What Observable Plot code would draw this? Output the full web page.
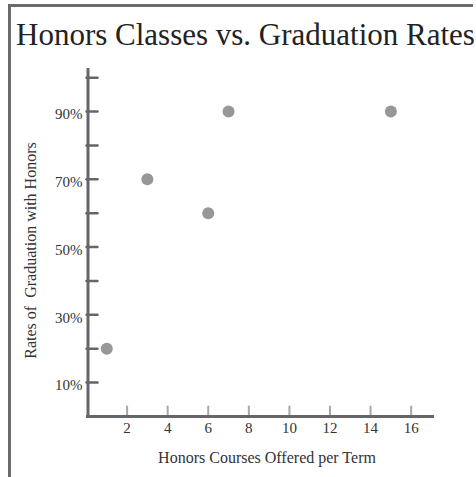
<!DOCTYPE html>
<html>
<head>
<meta charset="utf-8">
<script src="https://cdn.jsdelivr.net/npm/d3@7"></script>
<script src="https://cdn.jsdelivr.net/npm/@observablehq/plot@0.6"></script>
<style>
  html, body { margin: 0; padding: 0; background: #fff; }
  #wrap { position: relative; width: 476px; height: 477px; overflow: hidden; background: #fff; }
  #frame { position: absolute; left: 8px; top: 4px; width: 462px; height: 600px;
           border-left: 3px solid #6b6b6b; border-top: 3px solid #6b6b6b; }
  #title { position: absolute; left: 16px; top: 19px; font-family: "Liberation Serif", serif;
           font-size: 31px; line-height: 31px; color: #222; white-space: nowrap; }
  #chart { position: absolute; left: 0; top: 0; }
</style>
</head>
<body>
<div id="wrap">
  <div id="frame"></div>
  <div id="title">Honors Classes vs. Graduation Rates</div>
  <div id="chart"></div>
</div>
<script>
const titleText = "Honors Classes vs. Graduation Rates";
const xLabel = "Honors Courses Offered per Term";
const yLabel = "Rates of  Graduation with Honors";

const courses = [1, 3, 6, 7, 15];
const rates = [0.20, 0.70, 0.60, 0.90, 0.90];

const xTicks = [2, 4, 6, 8, 10, 12, 14, 16];
const yTicks = [0.1, 0.2, 0.3, 0.4, 0.5, 0.6, 0.7, 0.8, 0.9, 1.0];
const yTickLabels = [0.1, 0.3, 0.5, 0.7, 0.9];

const points = courses.map((c, i) => ({courses: c, rate: rates[i]}));
const lineShape = {draw(ctx, l) { ctx.moveTo(0, 0); ctx.lineTo(0, -l); }};
const pct = d3.format(".0%");

const chart = Plot.plot({
  width: 476,
  height: 477,
  marginLeft: 86,
  marginRight: 42,
  marginTop: 68,
  marginBottom: 61,
  style: {fontFamily: "Liberation Serif, serif", fontSize: "15px", background: "transparent", overflow: "visible", color: "#333"},
  x: {domain: [0, 17.15], axis: null},
  y: {domain: [0, 1.027], axis: null},
  marks: [
    Plot.vector(xTicks, {x: d => d, y: 0, length: 10, rotate: 0, anchor: "start", shape: lineShape, stroke: "#a8a8a8", strokeWidth: 2}),
    Plot.vector(yTicks, {x: 0, y: d => d, length: 11, rotate: 90, anchor: "start", shape: lineShape, stroke: "#666", strokeWidth: 2.5}),
    Plot.ruleX([0], {stroke: "#666", strokeWidth: 3, dx: 1.5}),
    Plot.ruleY([0], {stroke: "#666", strokeWidth: 3}),
    Plot.text(xTicks, {x: d => d, frameAnchor: "bottom", lineAnchor: "middle", textAnchor: "middle", dy: 12, text: d => String(d), fill: "#333"}),
    Plot.text(yTickLabels, {y: d => d, frameAnchor: "left", lineAnchor: "middle", textAnchor: "end", dx: -4, dy: 3, text: d => pct(d), fill: "#333"}),
    Plot.text([xLabel], {frameAnchor: "bottom", lineAnchor: "middle", textAnchor: "middle", dx: 6.5, dy: 41, text: d => d, fontSize: 16, fill: "#333"}),
    Plot.text([yLabel], {frameAnchor: "left", lineAnchor: "middle", textAnchor: "middle", dx: -56, dy: 8, rotate: -90, text: d => d, fontSize: 16, fill: "#333", style: "white-space: pre"}),
    Plot.dot(points, {x: "courses", y: "rate", r: 6, fill: "#979797", stroke: "none"})
  ]
});
document.getElementById("chart").appendChild(chart);
</script>
</body>
</html>
